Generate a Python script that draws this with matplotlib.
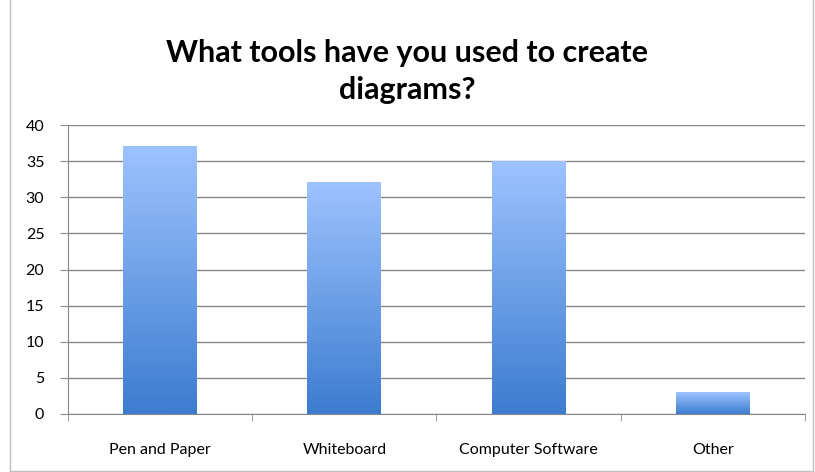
import numpy as np
import matplotlib
matplotlib.use("Agg")
import matplotlib.pyplot as plt
from matplotlib.colors import LinearSegmentedColormap
from matplotlib.patches import Rectangle

plt.rcParams['font.family'] = ['Lato', 'DejaVu Sans']

categories = ["Pen and Paper", "Whiteboard", "Computer Software", "Other"]
counts = [37, 32, 35, 3]
y_ticks = [0, 5, 10, 15, 20, 25, 30, 35, 40]

fig = plt.figure(figsize=(8.15, 4.72), dpi=100)
ax = fig.add_axes([0.0834, 0.1229, 0.9043, 0.612])

# outer chart frame
fig.patches.append(Rectangle((0.012, 0.002), 0.985, 1.2, transform=fig.transFigure,
                             fill=False, edgecolor="#bfbfbf", linewidth=1.0))

grad = LinearSegmentedColormap.from_list("bar", ["#3d7cd0", "#9dc3ff"])
bar_w = 0.4
x = np.arange(len(categories))
for xi, v in zip(x, counts):
    g = np.linspace(0, 1, 256).reshape(-1, 1)
    ax.imshow(g, cmap=grad, origin="lower", aspect="auto",
              extent=(xi - bar_w / 2, xi + bar_w / 2, 0, v), zorder=3)

ax.set_xlim(-0.5, len(categories) - 0.5)
ax.set_ylim(0, 40)
ax.set_yticks(y_ticks)
ax.set_yticklabels([str(t) for t in y_ticks], fontsize=11.5)
ax.set_xticks(x)
ax.set_xticklabels(categories, fontsize=11.5)
ax.set_xticks(np.arange(-0.5, len(categories)), minor=True)
ax.tick_params(axis="x", which="major", length=0, pad=21)
ax.tick_params(axis="x", which="minor", length=5, color="#888888", direction="out")
ax.tick_params(axis="y", length=6, color="#888888", pad=11)

ax.grid(axis="y", color="#888888", linewidth=1.0, zorder=0)
for s in ["top", "right"]:
    ax.spines[s].set_visible(False)
for s in ["left", "bottom"]:
    ax.spines[s].set_color("#888888")

fig.text(0.5, 0.848, "What tools have you used to create\ndiagrams?",
         ha="center", va="center", fontsize=22, fontweight="bold", linespacing=1.38)

fig.savefig("out.png", dpi=100)
